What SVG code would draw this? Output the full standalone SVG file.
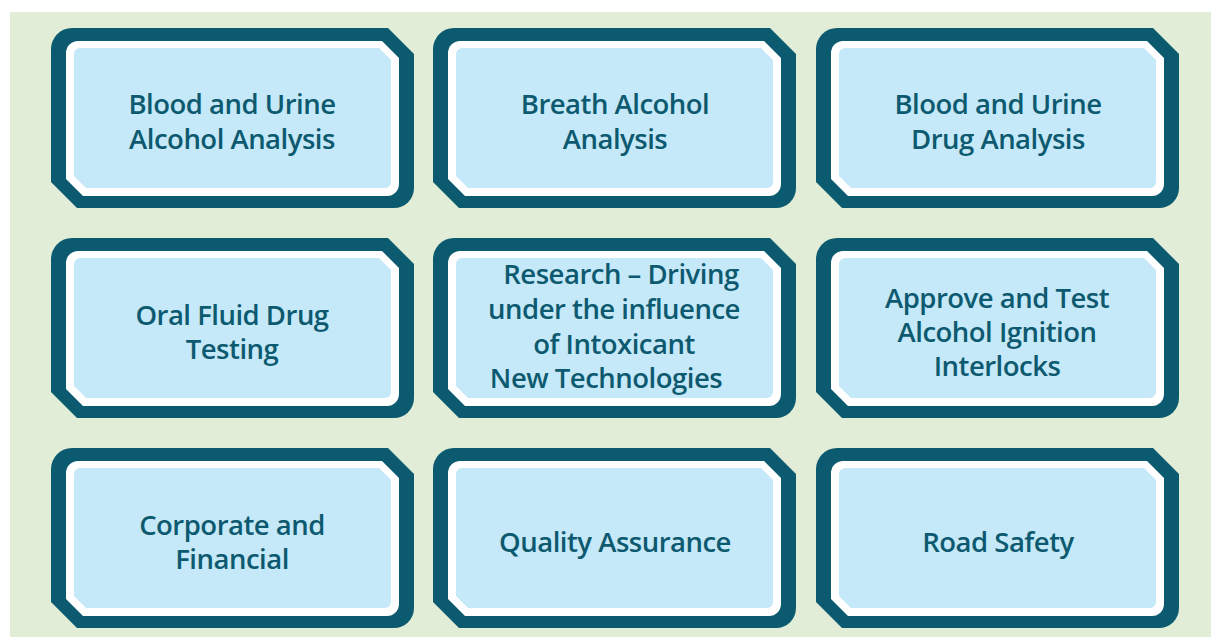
<svg xmlns="http://www.w3.org/2000/svg" xmlns:xlink="http://www.w3.org/1999/xlink" width="1211" height="637" viewBox="0 0 1211 637">
  <style>
    .frame { fill: #0b5a70; }
    .rim { fill: #ffffff; }
    .face { fill: #c5e9f8; }
    .label { font-family: "Open Sans", "Noto Sans", "Liberation Sans", sans-serif; font-size: 27.5px; font-weight: 600; letter-spacing: -0.5px; fill: #0d5a70; text-anchor: middle; }
  </style>
  <defs>
    <!-- tile: dark frame, white rim, light face; rounded TL/BR corners, chamfered TR/BL -->
    <g id="tile">
      <path class="frame" d="M21,0 H337 L363,26 V160 A20,20 0 0 1 343,180 H26 L0,154 V21 A21,21 0 0 1 21,0 Z"/>
      <path class="rim" d="M27,13 H331 L348,30 V156 A12,12 0 0 1 336,168 H32 L15,151 V25 A12,12 0 0 1 27,13 Z"/>
      <path class="face" d="M29,20 H328 L340,32 V154 A6,6 0 0 1 334,160 H35 L23,148 V26 A6,6 0 0 1 29,20 Z"/>
    </g>
  </defs>

  <rect x="10" y="12" width="1201" height="625" fill="#e1edd6"/>

  <g id="connectors"></g>

  <g id="blood-urine-alcohol">
    <use href="#tile" xlink:href="#tile" x="51" y="28"/>
    <text class="label" x="232" y="114">Blood and Urine</text>
    <text class="label" x="232" y="149">Alcohol Analysis</text>
  </g>

  <g id="breath-alcohol">
    <use href="#tile" xlink:href="#tile" x="433" y="28"/>
    <text class="label" x="615" y="114">Breath Alcohol</text>
    <text class="label" x="615" y="149">Analysis</text>
  </g>

  <g id="blood-urine-drug">
    <use href="#tile" xlink:href="#tile" x="816" y="28"/>
    <text class="label" x="998" y="114">Blood and Urine</text>
    <text class="label" x="998" y="149">Drug Analysis</text>
  </g>

  <g id="oral-fluid">
    <use href="#tile" xlink:href="#tile" x="51" y="238"/>
    <text class="label" x="232" y="325">Oral Fluid Drug</text>
    <text class="label" x="232" y="359">Testing</text>
  </g>

  <g id="research">
    <use href="#tile" xlink:href="#tile" x="433" y="238"/>
    <text class="label" x="621" y="284">Research – Driving</text>
    <text class="label" x="614" y="319">under the influence</text>
    <text class="label" x="614" y="354">of Intoxicant</text>
    <text class="label" x="606" y="388">New Technologies</text>
  </g>

  <g id="interlocks">
    <use href="#tile" xlink:href="#tile" x="816" y="238"/>
    <text class="label" x="997" y="308">Approve and Test</text>
    <text class="label" x="997" y="342">Alcohol Ignition</text>
    <text class="label" x="997" y="376">Interlocks</text>
  </g>

  <g id="corporate">
    <use href="#tile" xlink:href="#tile" x="51" y="448"/>
    <text class="label" x="232" y="535">Corporate and</text>
    <text class="label" x="232" y="569">Financial</text>
  </g>

  <g id="quality">
    <use href="#tile" xlink:href="#tile" x="433" y="448"/>
    <text class="label" x="615" y="552">Quality Assurance</text>
  </g>

  <g id="road-safety">
    <use href="#tile" xlink:href="#tile" x="816" y="448"/>
    <text class="label" x="998" y="552">Road Safety</text>
  </g>
</svg>
